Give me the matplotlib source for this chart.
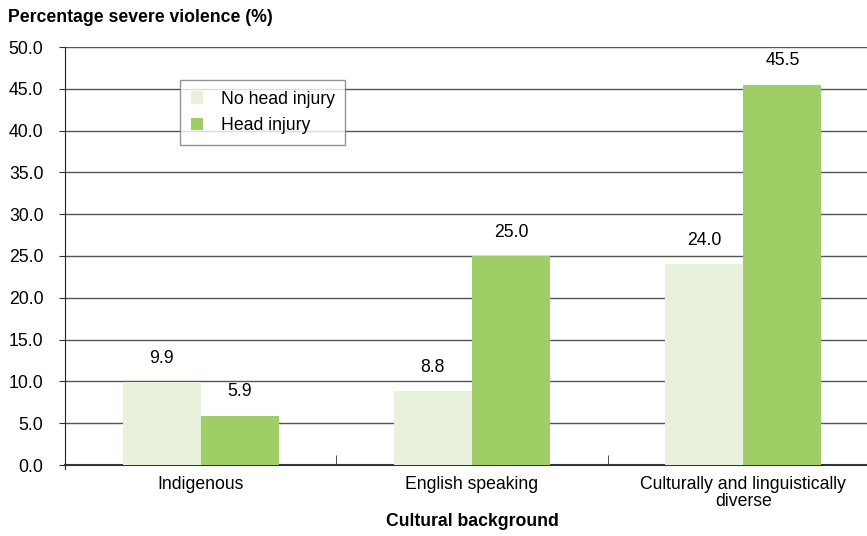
import matplotlib
matplotlib.use("Agg")
import matplotlib.pyplot as plt
import numpy as np

categories = ["Indigenous", "English speaking", "Culturally and linguistically\ndiverse"]
series_names = ["No head injury", "Head injury"]
no_head_injury = [9.9, 8.8, 24.0]
head_injury = [5.9, 25.0, 45.5]
y_ticks = [0, 5, 10, 15, 20, 25, 30, 35, 40, 45, 50]

plt.rcParams['font.family'] = ['Liberation Sans', 'DejaVu Sans']
FS = 12.7

fig = plt.figure(figsize=(8.67, 5.36), dpi=100)
ax = fig.add_axes([65/867, 1-465/536, (879-65)/867, (465-47)/536])

x = np.arange(len(categories))
w = 0.288
c_light = "#E8F1DC"
c_green = "#A0CE66"
b1 = ax.bar(x - w/2, no_head_injury, w, color=c_light, label=series_names[0], zorder=3)
b2 = ax.bar(x + w/2, head_injury, w, color=c_green, label=series_names[1], zorder=3)
for bars in (b1, b2):
    ax.bar_label(bars, labels=[f"{v:.1f}" for v in bars.datavalues], padding=11, fontsize=FS)

ax.set_xlim(-0.5, 2.5)
ax.set_ylim(0, 50)
ax.set_yticks(y_ticks)
ax.set_yticklabels([f"{v:.1f}" for v in y_ticks], fontsize=FS)
ax.yaxis.grid(True, color="#555555", linewidth=1.0, zorder=0)
ax.set_axisbelow(True)

ax.set_xticks(x)
ax.set_xticklabels(categories, fontsize=FS, linespacing=1.0)
ax.tick_params(axis='x', length=0, pad=8)
ax.set_xticks([0.5, 1.5], minor=True)
ax.tick_params(axis='x', which='minor', direction='in', length=7, color="#333333")
ax.tick_params(axis='y', length=4, color="#333333", pad=11.5)

for s in ['top', 'right']:
    ax.spines[s].set_visible(False)
ax.spines['left'].set_color("#222222")
ax.spines['left'].set_bounds(-0.5, 50)
ax.spines['bottom'].set_color("#333333")
ax.spines['bottom'].set_linewidth(1.5)

ax.set_xlabel("Cultural background", fontsize=FS, fontweight='bold', va='center')
ax.xaxis.set_label_coords(0.5, (465 - 522) / 418)
fig.text(8/867, 1-18/536, "Percentage severe violence (%)", fontsize=FS,
         fontweight='bold', va='center', ha='left')

leg = ax.legend(loc='upper left', bbox_to_anchor=(180/867, 1-80/536),
                bbox_transform=fig.transFigure, borderaxespad=0,
                fontsize=FS, frameon=True, fancybox=False, handlelength=0.7,
                handleheight=0.7, handletextpad=1.0, borderpad=0.6,
                labelspacing=0.55)
leg.get_frame().set_edgecolor("#777777")
leg.get_frame().set_linewidth(1.0)
leg.get_frame().set_boxstyle('square', pad=0)

fig.savefig("out.png", dpi=100)
